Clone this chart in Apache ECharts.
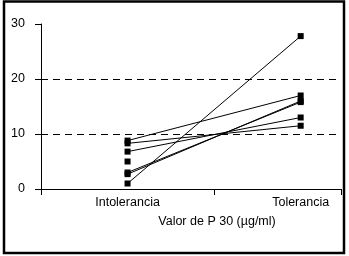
<!DOCTYPE html>
<html>
<head>
<meta charset="utf-8">
<script src="https://cdn.jsdelivr.net/npm/echarts@6/dist/echarts.min.js"></script>
<style>
  html, body { margin: 0; padding: 0; background: #fff; }
  #main { width: 349px; height: 256px; }
</style>
</head>
<body>
<div id="main"></div>
<script>
// grupos y valores
var categories = ['Intolerancia', 'Tolerancia'];
var yTicks = [0, 10, 20, 30];
var refLines = [10, 20];
var before = [1.0, 2.7, 3.0, 6.8, 8.3, 8.8, 5.0];
var after = [27.8, 16.0, 15.8, 13.0, 11.5, 17.0, null];
var axisTitle = 'Valor de P 30 (\u00b5g/ml)';

var font = 'Liberation Sans, Arial, sans-serif';

var series = [];
for (var i = 0; i < before.length; i++) {
    var pts = [[1, before[i]]];
    if (after[i] !== null) pts.push([2, after[i]]);
    series.push({
        type: 'line',
        data: pts,
        symbol: 'rect',
        symbolSize: 6,
        itemStyle: { color: '#000' },
        lineStyle: { color: '#000', width: 1 },
        z: 3
    });
}
// dashed reference lines
series.push({
    type: 'line',
    data: [],
    markLine: {
        silent: true,
        symbol: 'none',
        label: { show: false },
        lineStyle: { color: '#000', type: [7, 5], width: 1 },
        data: refLines.map(function (v) { return { yAxis: v }; })
    }
});

var option = {
    animation: false,
    backgroundColor: '#fff',
    grid: { left: 41, right: 8, top: 24, bottom: 67 },
    xAxis: {
        type: 'value',
        min: 0.5,
        max: 2.233,
        axisLine: { lineStyle: { color: '#000', width: 1 } },
        axisTick: { show: true, length: 6, customValues: [0.5, 1.5, 2.233], lineStyle: { color: '#000' } },
        axisLabel: {
            customValues: [1, 2],
            margin: 7,
            color: '#000',
            fontFamily: font,
            fontSize: 12.5,
            formatter: function (v) { return categories[Math.round(v) - 1]; }
        },
        splitLine: { show: false }
    },
    yAxis: {
        type: 'value',
        min: yTicks[0],
        max: yTicks[yTicks.length - 1],
        interval: 10,
        axisLine: { show: true, lineStyle: { color: '#000', width: 1 } },
        axisTick: { show: true, length: 6, lineStyle: { color: '#000' } },
        axisLabel: { margin: 16, color: '#000', fontFamily: font, fontSize: 12.5 },
        splitLine: { show: false }
    },
    graphic: [
        {
            type: 'rect',
            shape: { x: 4, y: 1.5, width: 340, height: 251.5 },
            style: { fill: 'none', stroke: '#000', lineWidth: 2.5 },
            silent: true
        },
        {
            type: 'text',
            x: 217,
            y: 222,
            style: {
                text: axisTitle,
                fill: '#000',
                font: '12.5px ' + font,
                textAlign: 'center',
                textVerticalAlign: 'middle'
            }
        }
    ],
    series: series
};

var myChart = echarts.init(document.getElementById('main'));
myChart.setOption(option);
</script>
</body>
</html>
